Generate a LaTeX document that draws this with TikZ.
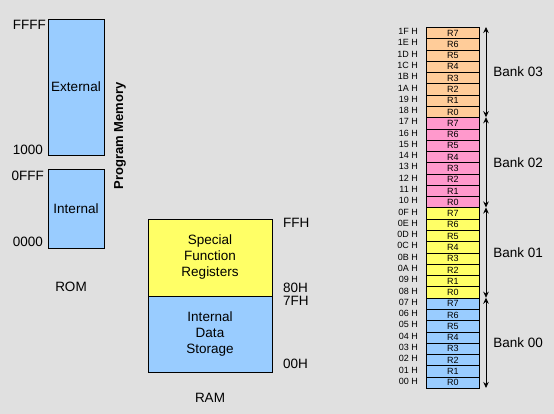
\documentclass[tikz,border=0pt]{standalone}
\usepackage{fontspec}
\setmainfont{Liberation Sans}
\usetikzlibrary{positioning,arrows.meta}

\definecolor{bgray}{HTML}{E0E0E0}
\definecolor{memblue}{HTML}{99CCFF}
\definecolor{memyellow}{HTML}{FFFF66}
\definecolor{mempink}{HTML}{FF99CC}
\definecolor{memorange}{HTML}{FFCC99}

\newcommand\hexdigit[1]{\ifcase#1 0\or 1\or 2\or 3\or 4\or 5\or 6\or 7\or 8\or 9\or A\or B\or C\or D\or E\or F\fi}

\tikzset{
  membox/.style={draw=black, line width=0.9pt, inner sep=0pt, align=center,
    font=\fontsize{13.5}{16}\selectfont},
  memlabel/.style={inner sep=0pt, font=\fontsize{13.5}{16}\selectfont},
  regcell/.style={draw=black, line width=0.8pt, inner sep=0pt, anchor=north west,
    minimum width=53pt, minimum height=11.28pt,
    font=\fontsize{9}{9}\selectfont},
  addrlabel/.style={inner sep=0pt, anchor=east, font=\fontsize{9}{9}\selectfont},
  bankarrow/.style={line width=0.8pt, {Stealth[length=6pt,width=5.5pt]}-{Stealth[length=6pt,width=5.5pt]}}
}

\begin{document}
\begin{tikzpicture}[x=1pt,y=-1pt]
  \fill[bgray] (0,0) rectangle (554,414);
  \useasboundingbox (0,0) rectangle (554,414);

  % program memory (ROM)
  \node[membox, fill=memblue, minimum width=56pt, minimum height=136pt] (ext) at (76,87) {External};
  \node[membox, fill=memblue, minimum width=56pt, minimum height=79pt] (int) at (76,208.5) {Internal};
  \node[memlabel, anchor=east] (ffff) at (46,25) {FFFF};
  \node[memlabel, anchor=east] (th) at (43,150) {1000};
  \node[memlabel, anchor=east] (offf) at (44,176) {0FFF};
  \node[memlabel, anchor=east] (zero) at (43,242) {0000};
  \node[memlabel] (rom) at (71,287) {ROM};
  \node[memlabel, rotate=90, font=\bfseries\fontsize{13}{16}\selectfont] (progmem) at (120,136) {Program Memory};

  % data memory (RAM)
  \node[membox, fill=memyellow, minimum width=124pt, minimum height=77pt] (sfr) at (210,257.5) {Special\\Function\\Registers};
  \node[membox, fill=memblue, minimum width=124pt, minimum height=76pt] (ids) at (210,334) {Internal\\Data\\Storage};
  \node[memlabel, anchor=west] (ffh) at (283,223) {FFH};
  \node[memlabel, anchor=west] (eightyh) at (283,288) {80H};
  \node[memlabel, anchor=west] (sfh) at (283,301) {7FH};
  \node[memlabel, anchor=west] (zeroh) at (283,364) {00H};
  \node[memlabel] (ram) at (210,398) {RAM};

  % register banks
  \foreach \b/\col in {0/memblue,1/memyellow,2/mempink,3/memorange} {
    \foreach \r in {0,...,7} {
      \pgfmathsetmacro\ytop{27+((3-\b)*8+(7-\r))*11.28}
      \node[regcell, fill=\col] (r\b\r) at (426,\ytop) {R\r};
      \node[addrlabel, left=8pt of r\b\r, yshift=1.5pt] (a\b\r)
        {\ifnum\b>1 1\else 0\fi\ifodd\b\relax\hexdigit{\numexpr8+\r\relax}\else\hexdigit{\r}\fi\ H};
    }
    \pgfmathsetmacro\ytop{27+(3-\b)*8*11.28}
    \pgfmathsetmacro\ybot{27+(4-\b)*8*11.28}
    \coordinate (bt\b) at (486,\ytop);
    \coordinate (bb\b) at (486,\ybot);
    \draw[bankarrow] (bt\b) -- node[memlabel, anchor=west, xshift=7pt] (bank\b) {Bank 0\b} (bb\b);
  }
\end{tikzpicture}
\end{document}
